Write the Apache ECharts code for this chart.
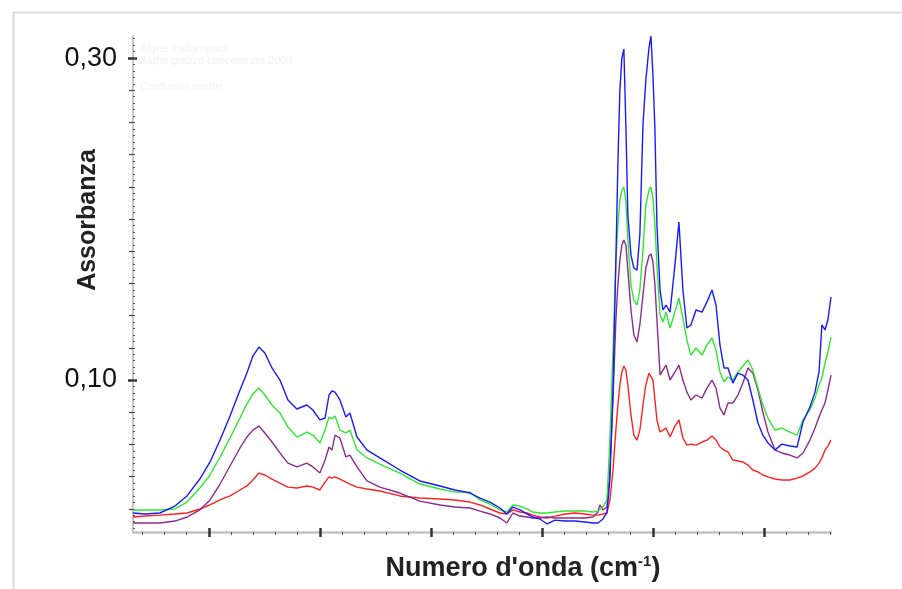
<!DOCTYPE html>
<html><head><meta charset="utf-8">
<script src="https://cdn.jsdelivr.net/npm/echarts@6/dist/echarts.min.js"></script>
<style>html,body{margin:0;padding:0;background:#fff}#c{width:902px;height:589px}</style>
</head><body><div id="c"></div>
<script>
// Wavenumber (cm-1) sample positions, shared by all series
const wavenumbers = [3842,3788,3721,3653,3599,3541,3495,3450,3405,3360,
3329,3302,3275,3248,3216,3180,3144,3104,3059,3032,
3000,2977,2959,2946,2932,2910,2883,2865,2833,2788,
2730,2640,2550,2459,2392,2324,2279,2234,2189,2158,
2131,2099,2068,2041,2009,1977,1941,1896,1851,1806,
1770,1748,1739,1725,1707,1694,1680,1667,1658,1649,
1640,1631,1622,1613,1599,1586,1572,1559,1545,1532,
1518,1509,1500,1491,1482,1468,1455,1441,1423,1401,
1383,1365,1347,1329,1306,1279,1257,1234,1216,1198,
1180,1162,1140,1117,1095,1072,1050,1027,1005,982,
950,919,883,851,824,793,770,752,739,725,712,698];

const blueAbs = [0.0174,0.0168,0.0174,0.0217,0.0280,0.0385,0.0491,0.0627,0.0776,0.0938,
0.1043,0.1149,0.1205,0.1168,0.1075,0.1000,0.0876,0.0820,0.0845,0.0814,
0.0752,0.0764,0.0907,0.0932,0.0925,0.0876,0.0770,0.0795,0.0646,0.0565,
0.0516,0.0441,0.0373,0.0342,0.0317,0.0298,0.0267,0.0242,0.0205,0.0168,
0.0211,0.0193,0.0168,0.0149,0.0137,0.0106,0.0130,0.0124,0.0124,0.0118,
0.0112,0.0112,0.0124,0.0137,0.0180,0.0379,0.0938,0.1745,0.2335,0.2801,
0.3000,0.3056,0.2584,0.2025,0.1776,0.1696,0.1683,0.1901,0.2584,0.2863,
0.3062,0.3137,0.2894,0.2553,0.1963,0.1559,0.1435,0.1466,0.1422,0.1714,
0.1981,0.1559,0.1323,0.1342,0.1435,0.1422,0.1484,0.1559,0.1466,0.1217,
0.1075,0.1075,0.0981,0.1043,0.1031,0.1000,0.0876,0.0733,0.0658,0.0609,
0.0565,0.0602,0.0590,0.0584,0.0739,0.0832,0.0925,0.1050,0.1342,0.1311,0.1373,0.1516];

const greenAbs = [0.0193,0.0193,0.0193,0.0199,0.0242,0.0329,0.0410,0.0522,0.0640,0.0764,
0.0851,0.0913,0.0950,0.0907,0.0845,0.0795,0.0708,0.0646,0.0677,0.0658,
0.0609,0.0689,0.0770,0.0758,0.0776,0.0689,0.0671,0.0689,0.0565,0.0516,
0.0478,0.0422,0.0354,0.0323,0.0304,0.0304,0.0255,0.0230,0.0193,0.0180,
0.0224,0.0217,0.0199,0.0180,0.0174,0.0174,0.0180,0.0186,0.0186,0.0186,
0.0180,0.0186,0.0193,0.0211,0.0255,0.0627,0.1186,0.1733,0.1963,0.2118,
0.2180,0.2199,0.2118,0.1870,0.1590,0.1497,0.1466,0.1559,0.1807,0.2087,
0.2180,0.2199,0.2130,0.1963,0.1714,0.1404,0.1360,0.1422,0.1323,0.1422,
0.1509,0.1385,0.1248,0.1155,0.1199,0.1155,0.1217,0.1261,0.1186,0.1050,
0.0988,0.1019,0.1000,0.1050,0.1087,0.1124,0.1062,0.0950,0.0845,0.0764,
0.0689,0.0702,0.0677,0.0658,0.0752,0.0814,0.0888,0.0969,0.1012,0.1106,0.1174,0.1267];

const purpleAbs = [0.0112,0.0112,0.0112,0.0124,0.0149,0.0193,0.0255,0.0354,0.0466,0.0578,
0.0646,0.0689,0.0714,0.0671,0.0615,0.0547,0.0484,0.0460,0.0484,0.0460,
0.0422,0.0503,0.0584,0.0565,0.0658,0.0640,0.0522,0.0534,0.0460,0.0373,
0.0335,0.0298,0.0248,0.0224,0.0211,0.0205,0.0186,0.0168,0.0143,0.0112,
0.0174,0.0155,0.0149,0.0143,0.0143,0.0149,0.0143,0.0143,0.0143,0.0143,
0.0149,0.0180,0.0224,0.0193,0.0211,0.0441,0.0876,0.1373,0.1590,0.1745,
0.1839,0.1870,0.1839,0.1683,0.1435,0.1280,0.1236,0.1342,0.1528,0.1696,
0.1770,0.1783,0.1733,0.1590,0.1373,0.1031,0.1062,0.1093,0.1000,0.1050,
0.1093,0.1000,0.0925,0.0876,0.0907,0.0888,0.0950,0.1000,0.0950,0.0826,
0.0783,0.0857,0.0857,0.0907,0.0981,0.1075,0.1043,0.0938,0.0801,0.0677,
0.0565,0.0547,0.0534,0.0516,0.0547,0.0627,0.0702,0.0770,0.0814,0.0857,0.0938,0.1031];

const redAbs = [0.0149,0.0155,0.0161,0.0168,0.0174,0.0199,0.0224,0.0255,0.0280,0.0317,
0.0342,0.0379,0.0422,0.0410,0.0385,0.0360,0.0335,0.0329,0.0342,0.0335,
0.0317,0.0366,0.0398,0.0391,0.0398,0.0385,0.0366,0.0354,0.0335,0.0323,
0.0311,0.0280,0.0267,0.0261,0.0255,0.0242,0.0224,0.0199,0.0174,0.0168,
0.0193,0.0180,0.0174,0.0161,0.0149,0.0143,0.0155,0.0168,0.0174,0.0168,
0.0161,0.0161,0.0161,0.0168,0.0174,0.0255,0.0441,0.0689,0.0845,0.0969,
0.1050,0.1087,0.1062,0.0969,0.0783,0.0658,0.0627,0.0689,0.0845,0.0969,
0.1043,0.1050,0.1000,0.0876,0.0752,0.0677,0.0689,0.0702,0.0646,0.0714,
0.0752,0.0640,0.0596,0.0602,0.0596,0.0615,0.0627,0.0652,0.0627,0.0584,
0.0565,0.0553,0.0503,0.0497,0.0491,0.0472,0.0441,0.0429,0.0410,0.0398,
0.0385,0.0379,0.0379,0.0391,0.0404,0.0429,0.0453,0.0484,0.0516,0.0565,0.0590,0.0627];

const seriesNames = ['Campione 1','Campione 2','Campione 3','Campione 4'];
const yTickLabels = [0.10, 0.30];
const xMajorTicks = [3500, 3000, 2500, 2000, 1500, 1000];
const xRange = [698, 3842];
const yRange = [0.0056, 0.3137];
const notes = ['Alghe trattamento', 'Alghe grezze concentrate 2009', 'Confronto spettri'];

const xMinorTicks = [];
for (let v = 700; v <= 3800; v += 100) if (v % 500 !== 0) xMinorTicks.push(v);
const yMediumTicks = [];
for (let i = 1; i <= 15; i++) { const v = +(i * 0.02).toFixed(2); if (v !== 0.10 && v !== 0.30) yMediumTicks.push(v); }
const ySmallTicks = [];
for (let i = 2; i <= 78; i++) ySmallTicks.push(+(i * 0.004).toFixed(3));

const FONT = '"Liberation Sans", Arial, sans-serif';
const pairs = arr => wavenumbers.map((w, i) => [w, arr[i]]);

function xAx(extra) {
  return Object.assign({
    type: 'value', min: xRange[0], max: xRange[1], inverse: true, position: 'bottom', offset: 0,
    axisLine: { show: false }, axisLabel: { show: false }, splitLine: { show: false }
  }, extra);
}
function yAx(extra) {
  return Object.assign({
    type: 'value', min: yRange[0], max: yRange[1], position: 'left', offset: 0,
    axisLine: { show: false }, axisLabel: { show: false }, splitLine: { show: false }
  }, extra);
}

const chart = echarts.init(document.getElementById('c'), null, { renderer: 'canvas' });
chart.setOption({
  animation: false,
  backgroundColor: '#fff',
  grid: { left: 133, right: 71, top: 36, bottom: 57, containLabel: false },
  xAxis: [
    xAx({ axisLine: { show: true, onZero: false, lineStyle: { color: '#c4c4c4', width: 2.5 } },
          axisTick: { show: true, customValues: xMajorTicks, length: 5, lineStyle: { color: '#333', width: 2.5 } } }),
    xAx({ axisTick: { show: true, inside: true, customValues: xMajorTicks, length: 4, lineStyle: { color: '#333', width: 2.5 } } }),
    xAx({ axisTick: { show: true, customValues: xMinorTicks, length: 3, lineStyle: { color: '#555', width: 1 } } })
  ],
  yAxis: [
    yAx({ axisLine: { show: true, onZero: false, lineStyle: { color: '#c8c8c8', width: 2 } },
          axisTick: { show: true, customValues: yTickLabels, length: 5, lineStyle: { color: '#333', width: 2.5 } },
          axisLabel: { show: true, customValues: yTickLabels, margin: 16, fontSize: 27, color: '#111', fontFamily: FONT,
                       formatter: v => v.toFixed(2).replace('.', ',') } }),
    yAx({ axisTick: { show: true, inside: true, customValues: yTickLabels, length: 4, lineStyle: { color: '#333', width: 2.5 } } }),
    yAx({ axisTick: { show: true, customValues: yMediumTicks, length: 4, lineStyle: { color: '#444', width: 1.2 } } }),
    yAx({ axisTick: { show: true, inside: true, customValues: ySmallTicks, length: 2, lineStyle: { color: '#555', width: 1 } } })
  ],
  series: [
    { name: seriesNames[3], type: 'line', data: pairs(redAbs), showSymbol: false, lineStyle: { color: '#ff2020', width: 1.4 }, itemStyle: { color: '#ff2020' } },
    { name: seriesNames[2], type: 'line', data: pairs(purpleAbs), showSymbol: false, lineStyle: { color: '#8e2b8e', width: 1.4 }, itemStyle: { color: '#8e2b8e' } },
    { name: seriesNames[1], type: 'line', data: pairs(greenAbs), showSymbol: false, lineStyle: { color: '#2ee82e', width: 1.4 }, itemStyle: { color: '#2ee82e' } },
    { name: seriesNames[0], type: 'line', data: pairs(blueAbs), showSymbol: false, lineStyle: { color: '#1a1aff', width: 1.4 }, itemStyle: { color: '#1a1aff' } }
  ],
  graphic: [
    { type: 'rect', left: 11, top: 10, shape: { width: 1000, height: 1000 }, style: { fill: 'none', stroke: '#dcdcdc', lineWidth: 2 }, silent: true },
    { type: 'text', x: 140, y: 43, style: { text: notes[0], font: 'italic 11px ' + FONT, fill: '#f1f1f1', verticalAlign: 'top', textVerticalAlign: 'top' } },
    { type: 'text', x: 140, y: 55, style: { text: notes[1], font: 'italic 11px ' + FONT, fill: '#f1f1f1', verticalAlign: 'top', textVerticalAlign: 'top' } },
    { type: 'text', x: 140, y: 81, style: { text: notes[2], font: 'italic 11px ' + FONT, fill: '#f1f1f1', verticalAlign: 'top', textVerticalAlign: 'top' } },
    { type: 'text', x: 88, y: 220, rotation: Math.PI / 2,
      style: { text: 'Assorbanza', font: 'bold 25px ' + FONT, fill: '#222', align: 'center', verticalAlign: 'middle', textAlign: 'center', textVerticalAlign: 'middle' } },
    { type: 'text', x: 523, y: 569,
      style: { text: "{a|Numero d'onda (cm}{s|-1}{a|)}", align: 'center', verticalAlign: 'middle', textAlign: 'center', textVerticalAlign: 'middle',
        rich: { a: { font: 'bold 27px ' + FONT, fill: '#222', color: '#222', lineHeight: 30 },
                s: { font: 'bold 15px ' + FONT, fill: '#222', color: '#222', verticalAlign: 'top', lineHeight: 30, padding: [0, 0, 0, 0] } } } }
  ]
});
</script></body></html>
